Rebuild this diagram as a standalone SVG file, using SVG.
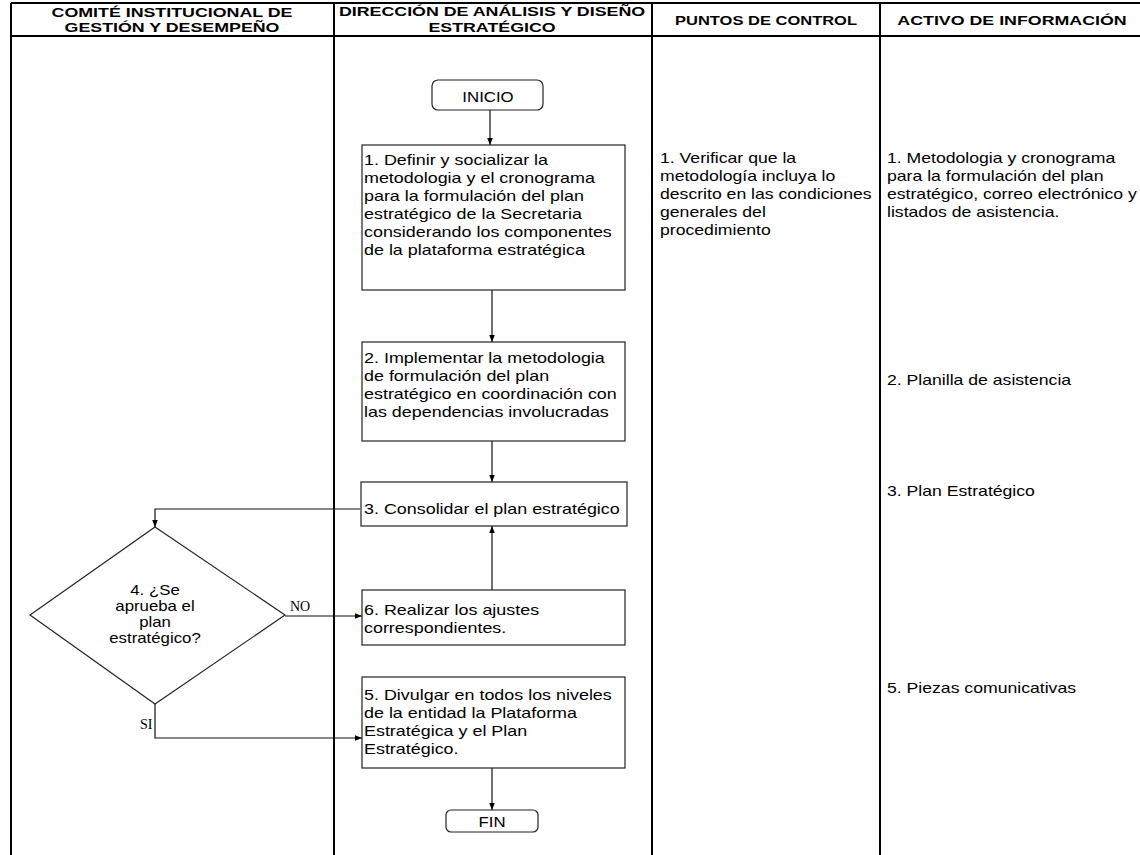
<svg xmlns="http://www.w3.org/2000/svg" width="1140" height="855" viewBox="0 0 1140 855">
<style>
.lane{stroke:#000;stroke-width:2;fill:none}
.box{fill:#fff;stroke:#222;stroke-width:1.2}
.con{stroke:#111;stroke-width:1.2;fill:none}
.h{font-family:"Liberation Sans",Arial,sans-serif;font-weight:bold;font-size:13px;fill:#000;text-anchor:middle}
.t{font-family:"Liberation Sans",Arial,sans-serif;font-size:14px;fill:#000}
.c{font-family:"Liberation Sans",Arial,sans-serif;font-size:14px;fill:#000;text-anchor:middle}
.s{font-family:"Liberation Serif","Times New Roman",serif;font-size:14px;fill:#000}
</style>
<defs>
<marker id="ah" viewBox="0 0 10 10" refX="10" refY="5" markerWidth="7" markerHeight="7" markerUnits="userSpaceOnUse" orient="auto">
<path d="M0,1 L10,5 L0,9 z" fill="#000"/>
</marker>
</defs>
<rect width="1140" height="855" fill="#fff"/>
<g id="lanes">
<line class="lane" x1="11" y1="3" x2="1140" y2="3"/>
<line class="lane" x1="11" y1="36" x2="1140" y2="36"/>
<line class="lane" x1="11" y1="3" x2="11" y2="855"/>
<line class="lane" x1="334" y1="3" x2="334" y2="855"/>
<line class="lane" x1="652" y1="3" x2="652" y2="855"/>
<line class="lane" x1="880" y1="3" x2="880" y2="855"/>
</g>
<g id="headers">
<g transform="translate(172,0) scale(1.37,1)"><text class="h" y="17">COMITÉ INSTITUCIONAL DE</text><text class="h" y="32">GESTIÓN Y DESEMPEÑO</text></g>
<g transform="translate(492,0) scale(1.37,1)"><text class="h" y="16">DIRECCIÓN DE ANÁLISIS Y DISEÑO</text><text class="h" y="32">ESTRATÉGICO</text></g>
<g transform="translate(766,0) scale(1.27,1)"><text class="h" y="25">PUNTOS DE CONTROL</text></g>
<g transform="translate(1012,0) scale(1.37,1)"><text class="h" y="25">ACTIVO DE INFORMACIÓN</text></g>
</g>
<g id="connectors">
<line class="con" x1="490" y1="110" x2="490" y2="145" marker-end="url(#ah)"/>
<line class="con" x1="492" y1="290" x2="492" y2="342" marker-end="url(#ah)"/>
<line class="con" x1="492" y1="441" x2="492" y2="482" marker-end="url(#ah)"/>
<polyline class="con" points="360,509 155,509 155,527" marker-end="url(#ah)"/>
<line class="con" x1="285" y1="616" x2="362" y2="616" marker-end="url(#ah)"/>
<line class="con" x1="492" y1="590" x2="492" y2="526" marker-end="url(#ah)"/>
<polyline class="con" points="155,704 155,738 362,738" marker-end="url(#ah)"/>
<line class="con" x1="492" y1="768" x2="492" y2="810" marker-end="url(#ah)"/>
<text class="s" x="290" y="611">NO</text>
<text class="s" x="140" y="729">SI</text>
</g>
<g id="inicio">
<rect class="box" x="432" y="80" width="111" height="30" rx="6"/>
<g transform="translate(488,0) scale(1.2,1)"><text class="c" y="102">INICIO</text></g>
</g>
<g id="n1">
<rect class="box" x="362" y="145" width="263" height="145"/>
<g transform="translate(364,0) scale(1.28,1)">
<text class="t" y="165">1. Definir y socializar la</text>
<text class="t" y="183">metodologia  y el cronograma</text>
<text class="t" y="201">para la formulación  del plan</text>
<text class="t" y="219">estratégico de la Secretaria</text>
<text class="t" y="237">considerando los componentes</text>
<text class="t" y="255">de la plataforma  estratégica</text>
</g>
</g>
<g id="n2">
<rect class="box" x="362" y="342" width="263" height="99"/>
<g transform="translate(364,0) scale(1.28,1)">
<text class="t" y="363">2. Implementar  la metodologia</text>
<text class="t" y="381">de formulación  del plan</text>
<text class="t" y="399">estratégico en coordinación con</text>
<text class="t" y="417">las dependencias involucradas</text>
</g>
</g>
<g id="n3">
<rect class="box" x="361" y="482" width="266" height="44"/>
<g transform="translate(364,0) scale(1.28,1)">
<text class="t" y="514">3. Consolidar el plan estratégico</text>
</g>
</g>
<g id="n4">
<polygon class="box" points="155,527 285,615 155,704 30,615"/>
<g transform="translate(155,0) scale(1.2,1)">
<text class="c" y="595">4. ¿Se</text>
<text class="c" y="611">aprueba el</text>
<text class="c" y="627">plan</text>
<text class="c" y="643">estratégico?</text>
</g>
</g>
<g id="n6">
<rect class="box" x="362" y="590" width="263" height="55"/>
<g transform="translate(364,0) scale(1.28,1)">
<text class="t" y="615">6. Realizar los ajustes</text>
<text class="t" y="633">correspondientes.</text>
</g>
</g>
<g id="n5">
<rect class="box" x="362" y="677" width="263" height="91"/>
<g transform="translate(364,0) scale(1.28,1)">
<text class="t" y="700">5. Divulgar en todos los niveles</text>
<text class="t" y="718">de la entidad la Plataforma</text>
<text class="t" y="736">Estratégica y el Plan</text>
<text class="t" y="754">Estratégico.</text>
</g>
</g>
<g id="fin">
<rect class="box" x="446" y="810" width="92" height="22" rx="5"/>
<g transform="translate(492,0) scale(1.2,1)"><text class="c" y="827">FIN</text></g>
</g>
<g id="control">
<g transform="translate(660,0) scale(1.26,1)">
<text class="t" y="163">1. Verificar que la</text>
<text class="t" y="181">metodología incluya lo</text>
<text class="t" y="199">descrito en las condiciones</text>
<text class="t" y="217">generales del</text>
<text class="t" y="235">procedimiento</text>
</g>
</g>
<g id="activo">
<g transform="translate(887,0) scale(1.26,1)">
<text class="t" y="163">1. Metodologia y cronograma</text>
<text class="t" y="181">para la formulación del plan</text>
<text class="t" y="199">estratégico, correo electrónico y</text>
<text class="t" y="217">listados de asistencia.</text>
<text class="t" y="385">2. Planilla de asistencia</text>
<text class="t" y="496">3. Plan Estratégico</text>
<text class="t" y="693">5. Piezas comunicativas</text>
</g>
</g>
</svg>
